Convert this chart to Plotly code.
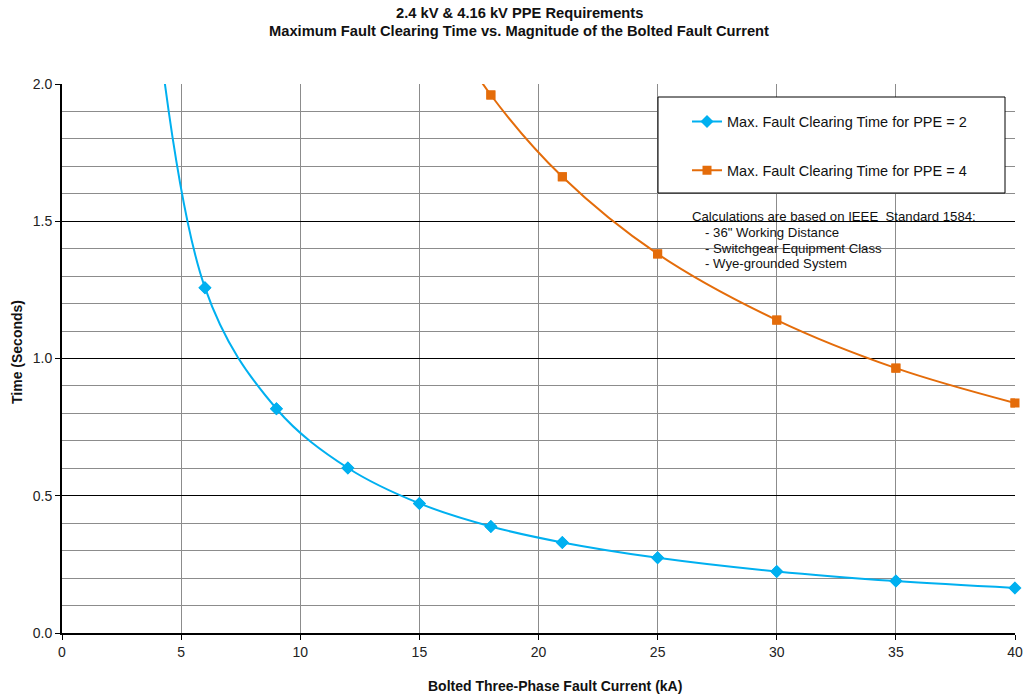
import plotly.graph_objects as go

# Data
current_ppe2 = [3, 6, 9, 12, 15, 18, 21, 25, 30, 35, 40]
time_ppe2 = [3.1, 1.258, 0.817, 0.601, 0.472, 0.388, 0.330, 0.274, 0.224, 0.189, 0.164]

current_ppe4 = [15, 18, 21, 25, 30, 35, 40]
time_ppe4 = [2.37, 1.96, 1.662, 1.381, 1.140, 0.965, 0.838]

name_ppe2 = "Max. Fault Clearing Time for PPE = 2"
name_ppe4 = "Max. Fault Clearing Time for PPE = 4"

title_lines = ["2.4 kV & 4.16 kV PPE Requirements",
               "Maximum Fault Clearing Time vs. Magnitude of the Bolted Fault Current"]
note_lines = ["Calculations are based on IEEE  Standard 1584:",
              "- 36\" Working Distance",
              "- Switchgear Equipment Class",
              "- Wye-grounded System"]

BLUE = "#00B0F0"
ORANGE = "#E46C0A"
FONT = "Liberation Sans, Arial, sans-serif"

W, H = 1026, 700
L, T, R, B = 62, 84, 11, 67
PW, PH = W - L - R, H - T - B


def px_x(fx):
    return (fx - L) / PW


def px_y(fy):
    return 1 - (fy - T) / PH


fig = go.Figure()
# smooth lines (clipped to the plot area) with legend entries
fig.add_trace(go.Scatter(
    x=current_ppe2, y=time_ppe2, mode="lines+markers", name=name_ppe2,
    line=dict(color=BLUE, width=2, shape="spline", smoothing=1.0),
    marker=dict(symbol="diamond", size=10, color=BLUE),
    legendgroup="a",
))
fig.add_trace(go.Scatter(
    x=current_ppe4, y=time_ppe4, mode="lines+markers", name=name_ppe4,
    line=dict(color=ORANGE, width=2, shape="spline", smoothing=1.0),
    marker=dict(symbol="square", size=9, color=ORANGE),
    legendgroup="b",
))
# in-range markers drawn unclipped (so edge markers are whole)
fig.add_trace(go.Scatter(
    x=current_ppe2[1:], y=time_ppe2[1:], mode="markers", showlegend=False,
    marker=dict(symbol="diamond", size=10, color=BLUE), cliponaxis=False,
    legendgroup="a", hoverinfo="skip",
))
fig.add_trace(go.Scatter(
    x=current_ppe4[1:], y=time_ppe4[1:], mode="markers", showlegend=False,
    marker=dict(symbol="square", size=9, color=ORANGE), cliponaxis=False,
    legendgroup="b", hoverinfo="skip",
))

fig.update_layout(
    width=W, height=H,
    margin=dict(l=L, r=R, t=T, b=B, autoexpand=False),
    paper_bgcolor="white", plot_bgcolor="white",
    font=dict(family=FONT, size=14, color="#222222"),
    showlegend=True,
    legend=dict(
        x=px_x(687), y=px_y(105.5), xanchor="left", yanchor="top",
        borderwidth=0, bgcolor="rgba(0,0,0,0)",
        font=dict(size=14.5, color="#111111"),
        tracegroupgap=27, traceorder="grouped",
    ),
    xaxis=dict(
        range=[0, 40], dtick=5, tick0=0, automargin=False,
        showgrid=True, gridcolor="#8c8c8c", gridwidth=1,
        showline=True, linecolor="black", linewidth=2,
        ticks="outside", ticklen=5, tickcolor="black",
        zeroline=False, tickfont=dict(size=14),
    ),
    yaxis=dict(
        range=[0, 2.0], dtick=0.5, tick0=0, tickformat=".1f", automargin=False,
        showgrid=True, gridcolor="black", gridwidth=1,
        minor=dict(dtick=0.1, showgrid=True, gridcolor="#8c8c8c", gridwidth=1),
        showline=True, linecolor="black", linewidth=2,
        ticks="outside", ticklen=5, tickcolor="black",
        zeroline=False, tickfont=dict(size=14),
    ),
    xaxis2=dict(
        range=[0, 40], overlaying="x", side="top", anchor="y", automargin=False,
        showline=True, linecolor="#808080", linewidth=1,
        showticklabels=False, showgrid=False, ticks="", zeroline=False,
    ),
)

# legend frame
fig.add_shape(
    type="rect", xref="paper", yref="paper",
    x0=px_x(658), x1=px_x(1005), y0=px_y(193), y1=px_y(97),
    line=dict(color="black", width=1), fillcolor="white", layer="above",
)

# titles
for text, fy in zip(title_lines, [12.8, 30.8]):
    fig.add_annotation(
        text="<b>" + text + "</b>",
        xref="paper", yref="paper", x=px_x(519), y=1.0, yshift=T - fy,
        xanchor="center", yanchor="middle", showarrow=False,
        font=dict(size=14.7, color="#111111", family=FONT),
    )
fig.add_annotation(
    text="<b>Bolted Three-Phase Fault Current (kA)</b>",
    xref="paper", yref="paper", x=px_x(555), y=0, yshift=-53,
    xanchor="center", yanchor="middle", showarrow=False,
    font=dict(size=14, color="#111111", family=FONT),
)
fig.add_annotation(
    text="<b>Time (Seconds)</b>", textangle=-90,
    xref="paper", yref="paper", x=0, xshift=-45, y=px_y(352),
    xanchor="center", yanchor="middle", showarrow=False,
    font=dict(size=14, color="#111111", family=FONT),
)

# note text
for i, (text, fy) in enumerate(zip(note_lines, [217, 232, 248.4, 263])):
    fig.add_annotation(
        text=text,
        xref="paper", yref="paper", x=px_x(690 if i == 0 else 703), y=px_y(fy),
        xanchor="left", yanchor="middle", align="left", showarrow=False,
        font=dict(size=13.2, color="#111111", family=FONT),
    )

fig.write_html(
    "out.html",
    config={"displayModeBar": False},
    post_script="document.body.style.margin='0';document.body.style.overflow='hidden';",
)
